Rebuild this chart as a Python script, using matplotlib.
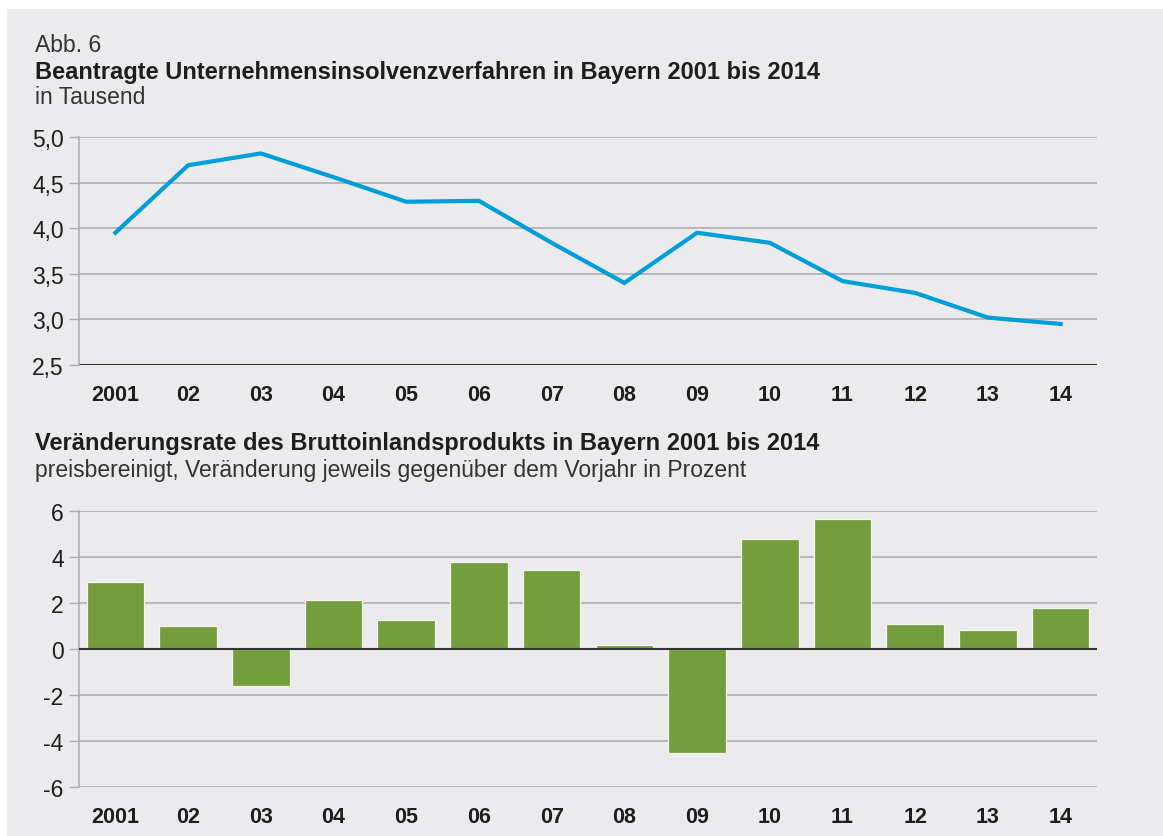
import numpy as np
import matplotlib.pyplot as plt
from matplotlib.patches import Rectangle

plt.rcParams["font.family"] = ["Liberation Sans", "DejaVu Sans"]

# data
years = ["2001", "02", "03", "04", "05", "06", "07", "08", "09", "10", "11", "12", "13", "14"]
insolvencies = [3.95, 4.69, 4.82, 4.56, 4.29, 4.30, 3.84, 3.40, 3.95, 3.84, 3.42, 3.29, 3.02, 2.95]
gdp_change = [2.91, 1.02, -1.60, 2.11, 1.27, 3.80, 3.42, 0.17, -4.52, 4.79, 5.64, 1.07, 0.84, 1.79]

line_ticks = [2.5, 3.0, 3.5, 4.0, 4.5, 5.0]
bar_ticks = [-6, -4, -2, 0, 2, 4, 6]

BG = "#ebebed"
GRID = "#a9a9ab"
TEXT = "#1e1e1e"
BLUE = "#009ed9"
GREEN = "#739e3b"

fig = plt.figure(figsize=(11.63, 8.37), dpi=100)
fig.patch.set_facecolor("white")
fig.patches.append(Rectangle((7 / 1163, 0), 1 - 7 / 1163, 1 - 10 / 837,
                             transform=fig.transFigure, facecolor=BG,
                             edgecolor="none", zorder=-5))

# header texts
fig.text(35 / 1163, 1 - 46 / 837, "Abb. 6", fontsize=16.5, color="#333333", va="center")
fig.text(35 / 1163, 1 - 72 / 837, "Beantragte Unternehmensinsolvenzverfahren in Bayern 2001 bis 2014",
         fontsize=17, fontweight="bold", color=TEXT, va="center")
fig.text(35 / 1163, 1 - 98 / 837, "in Tausend", fontsize=16.5, color="#333333", va="center")
fig.text(35 / 1163, 1 - 444 / 837, "Veränderungsrate des Bruttoinlandsprodukts in Bayern 2001 bis 2014",
         fontsize=17, fontweight="bold", color=TEXT, va="center")
fig.text(35 / 1163, 1 - 470 / 837,
         "preisbereinigt, Veränderung jeweils gegenüber dem Vorjahr in Prozent",
         fontsize=16.5, color="#333333", va="center")

x = np.arange(len(years))


def style_axis(ax, ticks, labels):
    ax.set_facecolor("none")
    ax.set_xlim(-0.5, len(years) - 0.5)
    ax.set_ylim(ticks[0], ticks[-1])
    ax.set_yticks(ticks)
    ax.set_yticklabels(labels, fontsize=16.5, color=TEXT)
    ax.set_xticks(x)
    ax.set_xticklabels(years, fontsize=15.5, fontweight="bold", color=TEXT)
    ax.tick_params(axis="x", length=0, pad=14)
    ax.tick_params(axis="y", length=7, width=1, color=GRID, pad=4)
    for t in ticks:
        ax.axhline(t, color=GRID, lw=1.1, zorder=1)
    for s in ["top", "right", "bottom"]:
        ax.spines[s].set_visible(False)
    ax.spines["left"].set_color(GRID)
    ax.spines["left"].set_linewidth(1.1)


# top: line chart
ax1 = fig.add_axes([79 / 1163, 1 - 366 / 837, 1018 / 1163, 228 / 837])
style_axis(ax1, line_ticks, [f"{t:.1f}".replace(".", ",") for t in line_ticks])
ax1.axhline(line_ticks[0], color="#333333", lw=1.5, zorder=2)
ax1.plot(x, insolvencies, color=BLUE, lw=3, zorder=3, solid_joinstyle="miter")

# bottom: bar chart
ax2 = fig.add_axes([79 / 1163, 1 - 788 / 837, 1018 / 1163, 276 / 837])
style_axis(ax2, bar_ticks, [str(t) for t in bar_ticks])
ax2.bar(x, gdp_change, width=0.79, color=GREEN, edgecolor="#f4f4f0", linewidth=0.9, zorder=2)
ax2.axhline(0, color="#333333", lw=1.5, zorder=3)

fig.savefig("out.png", dpi=100, facecolor=fig.get_facecolor())
